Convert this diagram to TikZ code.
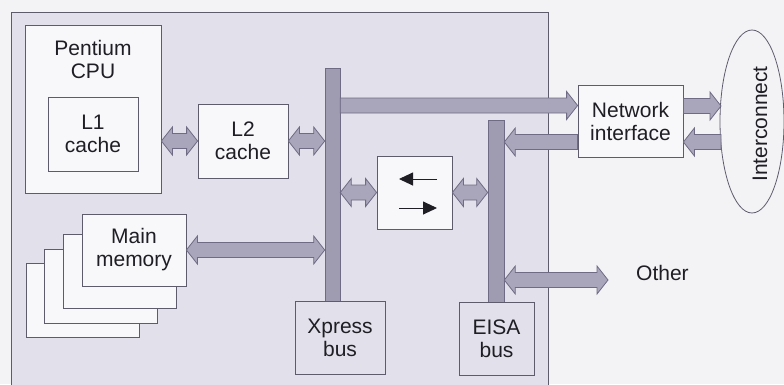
\documentclass[tikz,border=0pt]{standalone}
\usepackage{fontspec}
\setmainfont{Liberation Sans}
\usetikzlibrary{calc,shapes.geometric,arrows.meta}
\definecolor{outbg}{HTML}{F3F3F6}
\definecolor{panel}{HTML}{E2E0EA}
\definecolor{boxfill}{HTML}{F8F8FA}
\definecolor{boxline}{HTML}{5E5C6C}
\definecolor{arrfill}{HTML}{A9A5BA}
\definecolor{arrline}{HTML}{6F6B84}
\definecolor{barfill}{HTML}{9F9BB0}
\definecolor{txt}{HTML}{1E1E24}
\tikzset{
  box/.style={draw=boxline, fill=boxfill, line width=0.8pt, inner sep=0pt,
    align=center, text=txt, font=\fontsize{21}{23}\selectfont},
  busbox/.style={box, fill=panel},
  bar/.style={draw=arrline, fill=barfill, line width=0.6pt, inner sep=0pt},
  fatarrow/.style={draw=arrline, fill=arrfill, line width=0.8pt, line join=miter},
  thinarrow/.style={draw=txt, line width=0.9pt, -{Triangle[length=14pt,width=13pt]}},
  plain/.style={text=txt, font=\fontsize{21}{23}\selectfont, inner sep=0pt}
}
% single-headed fat arrow from #1 to #2 (horizontal), head at #2
\newcommand\onefat[2]{%
  \path[fatarrow] let \p1=#1, \p2=#2, \p3=($#2!11pt!#1$) in
    (\x1,\y1+7.5pt) -- (\x3,\y1+7.5pt) -- (\x3,\y1+14pt) -- (\x2,\y1) --
    (\x3,\y1-14pt) -- (\x3,\y1-7.5pt) -- (\x1,\y1-7.5pt) -- cycle;}
% double-headed fat arrow between #1 and #2 (horizontal)
\newcommand\dblfat[2]{%
  \path[fatarrow] let \p1=#1, \p2=#2, \p3=($#2!11pt!#1$), \p4=($#1!11pt!#2$) in
    (\x1,\y1) -- (\x4,\y1+14pt) -- (\x4,\y1+7.5pt) -- (\x3,\y1+7.5pt) --
    (\x3,\y1+14pt) -- (\x2,\y1) -- (\x3,\y1-14pt) -- (\x3,\y1-7.5pt) --
    (\x4,\y1-7.5pt) -- (\x4,\y1-14pt) -- cycle;}
\begin{document}
\begin{tikzpicture}[x=1pt,y=-1pt]
\useasboundingbox (0,0) rectangle (784,384);
\fill[outbg] (0,0) rectangle (784,384);
\fill[panel] (11,12) rectangle (548,385);
\draw[boxline, line width=0.8pt] (11,385) -- (11,12) -- (548,12) -- (548,385);

% CPU and caches
\node[box, minimum width=136pt, minimum height=168pt,
  label={[plain, align=center, anchor=north, yshift=-15pt]north:{Pentium\\CPU}}] (cpu) at (93,109) {};
\node[box, minimum width=90pt, minimum height=74pt] (l1) at (93,134) {L1\\cache};
\node[box, minimum width=90pt, minimum height=74pt] (l2) at (243,141) {L2\\cache};

% main memory stack
\node[box, minimum width=113pt, minimum height=74pt] (mem4) at (82.5,300) {};
\node[box, minimum width=113pt, minimum height=74pt] (mem3) at (100.5,286) {};
\node[box, minimum width=113pt, minimum height=74pt] (mem2) at (119.5,271) {};
\node[box, minimum width=104pt, minimum height=72pt] (memf) at (134,250) {Main\\memory};

% buses
\node[bar, minimum width=15pt, minimum height=233pt] (xbar) at (332.5,184.5) {};
\node[bar, minimum width=16pt, minimum height=182pt] (ebar) at (496,211) {};
\node[busbox, minimum width=90pt, minimum height=73pt] (xbus) at (340,337.5) {Xpress\\bus};
\node[busbox, minimum width=75pt, minimum height=73pt] (ebus) at (496.5,338.5) {EISA\\bus};

% bridge
\node[box, minimum width=75pt, minimum height=73pt] (bridge) at (414.5,192.5) {};
\coordinate (brA) at (437,179);
\coordinate (brB) at (399,179);
\coordinate (brC) at (399,208);
\coordinate (brD) at (437,208);
\draw[thinarrow] (brA) -- (brB);
\draw[thinarrow] (brC) -- (brD);

% network interface and interconnect
\node[box, minimum width=105pt, minimum height=72pt] (ni) at (630.5,121) {Network\\interface};
\node[ellipse, draw=boxline, fill=outbg, line width=0.8pt, minimum width=64pt, minimum height=183pt, inner sep=0pt] (ic) at (752,121.5) {};
\node[plain, rotate=90] (ictext) at (760,124) {Interconnect};
\node[plain, anchor=base west] (other) at (636,280) {Other};

% connector rows
\coordinate (ytop) at (0,105.5);
\coordinate (ynet) at (0,142);
\coordinate (yicu) at (0,106);
\coordinate (icin) at (721,106);
\coordinate (icout) at (721,142);
\coordinate (otherend) at (608,280);

% fat arrows
\dblfat{(cpu.east |- l2.west)}{(l2.west)}
\dblfat{(l2.east)}{(xbar.west |- l2.east)}
\dblfat{(memf.east)}{(xbar.west |- memf.east)}
\dblfat{(xbar.east |- bridge.west)}{(bridge.west)}
\dblfat{(bridge.east)}{(ebar.west |- bridge.east)}
\onefat{(xbar.east |- ytop)}{(ni.west |- ytop)}
\onefat{(ni.west |- ynet)}{(ebar.east |- ynet)}
\onefat{(ni.east |- yicu)}{(icin)}
\onefat{(icout)}{(ni.east |- ynet)}
\dblfat{(ebar.east |- otherend)}{(otherend)}
\end{tikzpicture}
\end{document}
